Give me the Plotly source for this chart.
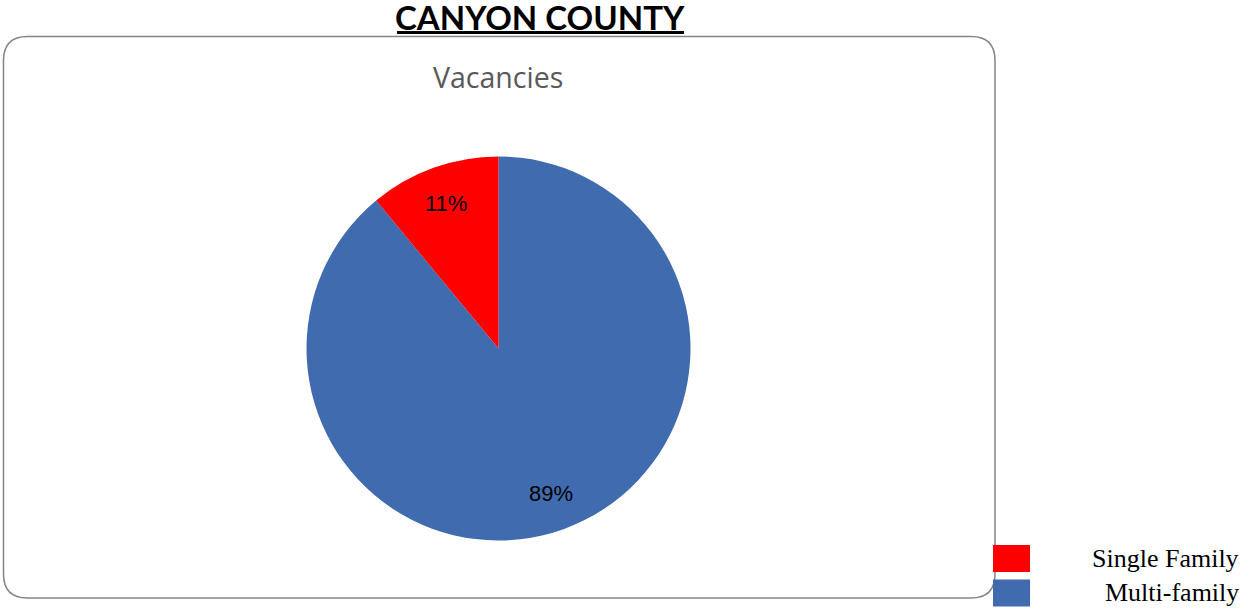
import math
import plotly.graph_objects as go

categories = ["Single Family", "Multi-family"]
values = [11, 89]
colors = ["#FF0000", "#406BAF"]
chart_title = "CANYON COUNTY"
pie_title = "Vacancies"

W, H = 1254, 611

def px(x):
    return x / W

def py(y):
    return 1 - y / H

cx, cy, R = 498.5, 348.5, 192

# drawn clockwise from 12 o'clock in reverse order so the first category
# ends at 12 o'clock on the left side (as in the reference)
fig = go.Figure(go.Pie(
    labels=categories[::-1], values=values[::-1], sort=False, direction="clockwise",
    rotation=0, marker=dict(colors=colors[::-1], line=dict(width=0)),
    textinfo="none", hoverinfo="label+percent", showlegend=False,
    domain=dict(x=[px(cx - R), px(cx + R)], y=[py(cy + R), py(cy - R)]),
))

shapes = []
annotations = []

# rounded chart border
x0, x1, y0, y1, r = 3.5, 995, 36.5, 598, 24
path = (f"M {px(x0 + r)},{py(y0)} L {px(x1 - r)},{py(y0)} "
        f"Q {px(x1)},{py(y0)} {px(x1)},{py(y0 + r)} L {px(x1)},{py(y1 - r)} "
        f"Q {px(x1)},{py(y1)} {px(x1 - r)},{py(y1)} L {px(x0 + r)},{py(y1)} "
        f"Q {px(x0)},{py(y1)} {px(x0)},{py(y1 - r)} L {px(x0)},{py(y0 + r)} "
        f"Q {px(x0)},{py(y0)} {px(x0 + r)},{py(y0)} Z")
shapes.append(dict(type="path", xref="paper", yref="paper", path=path,
                   line=dict(color="#858585", width=1.5), layer="below"))

# title
annotations.append(dict(x=px(540), y=py(17), xref="paper", yref="paper",
                        text=f"<b>{chart_title}</b>", showarrow=False,
                        font=dict(family="Lato", size=33, color="black"),
                        xanchor="center", yanchor="middle"))
shapes.append(dict(type="line", xref="paper", yref="paper",
                   x0=px(397), x1=px(684), y0=py(32.5), y1=py(32.5),
                   line=dict(color="black", width=3)))

annotations.append(dict(x=px(498), y=py(77), xref="paper", yref="paper",
                        text=pie_title, showarrow=False,
                        font=dict(family="Open Sans", size=28.5, color="#595959"),
                        xanchor="center", yanchor="middle"))

# percentage labels (counter-clockwise from 12 o'clock, first category first)
total = sum(values)
start = 0.0
for v in values:
    frac = v / total
    mid = (start + frac / 2) * 2 * math.pi
    rr = 0.8 * R
    lx = cx - rr * math.sin(mid)
    ly = cy - rr * math.cos(mid)
    annotations.append(dict(x=px(lx), y=py(ly), xref="paper", yref="paper",
                            text=f"{round(frac * 100)}%", showarrow=False,
                            font=dict(family="Liberation Sans", size=22, color="black"),
                            xanchor="center", yanchor="middle"))
    start += frac

# legend
for i, (lab, col) in enumerate(zip(categories, colors)):
    top = 545 + i * 34.5
    shapes.append(dict(type="rect", xref="paper", yref="paper",
                       x0=px(993), x1=px(1030), y0=py(top), y1=py(top + 27),
                       fillcolor=col, line=dict(width=0)))
    annotations.append(dict(x=px(1241), y=py(top + 13), xref="paper", yref="paper",
                            text=lab, showarrow=False,
                            font=dict(family="Liberation Serif", size=26, color="black"),
                            xanchor="right", yanchor="middle"))

fig.update_layout(
    width=W, height=H, margin=dict(l=0, r=0, t=0, b=0),
    paper_bgcolor="white", plot_bgcolor="white",
    shapes=shapes, annotations=annotations, showlegend=False,
)

fig.write_html(
    "out.html",
    config={"displayModeBar": False},
    post_script="document.body.style.margin='0px';document.body.style.overflow='hidden';",
)
